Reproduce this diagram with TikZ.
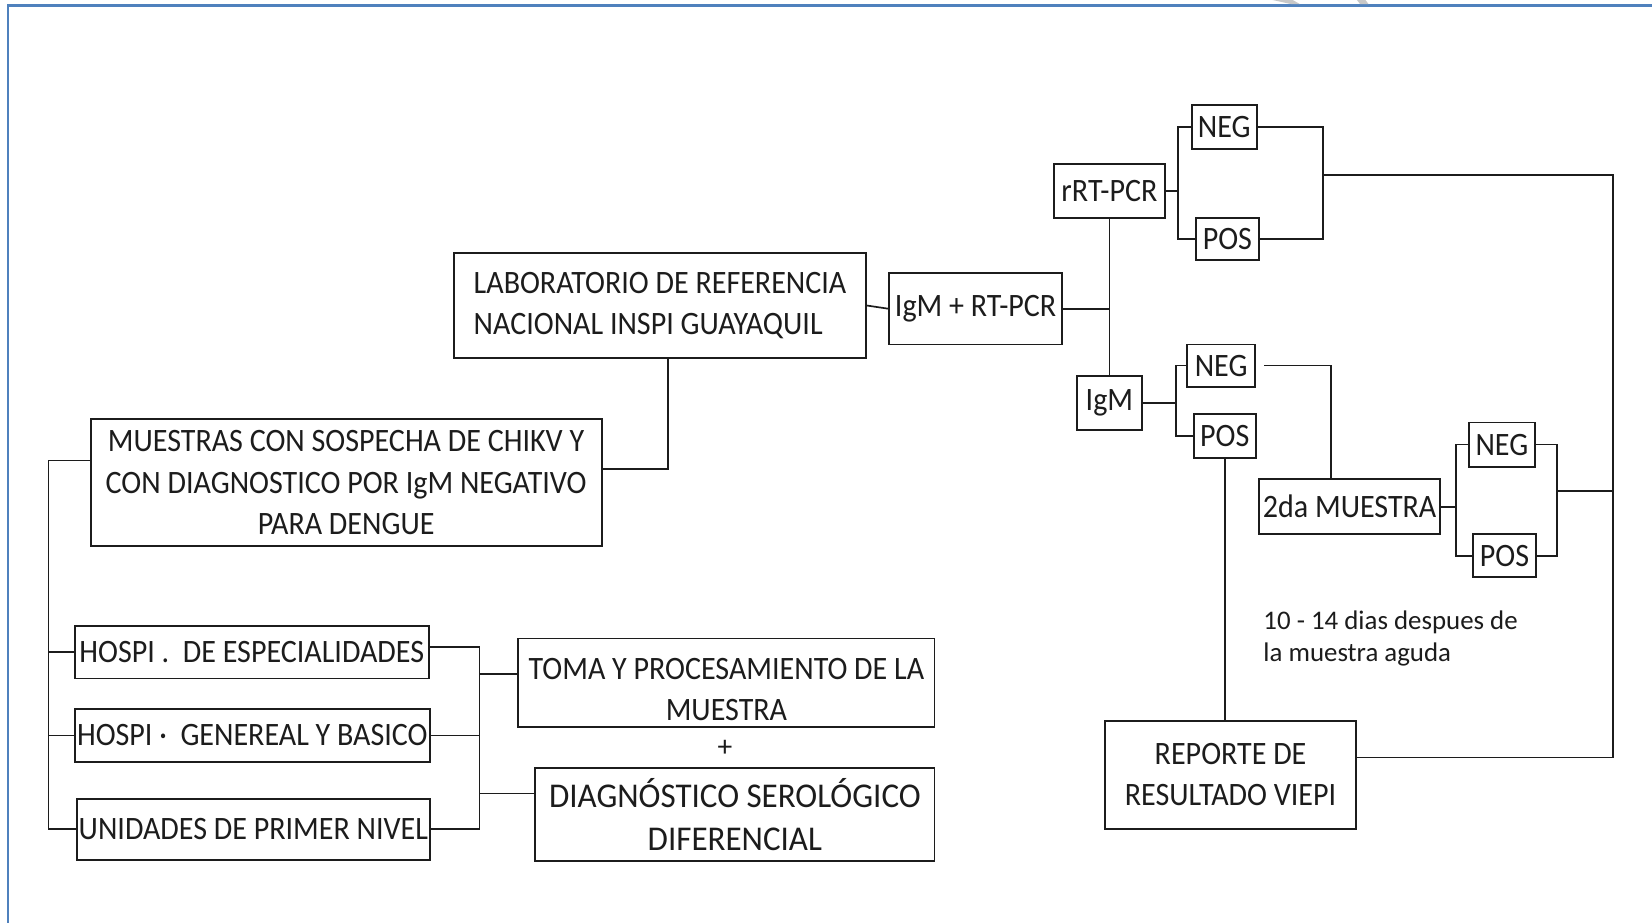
\documentclass[tikz,border=0pt]{standalone}
\usepackage{fontspec}
\setmainfont{Carlito}
\newfontfamily\boxfont[FakeStretch=0.92]{Carlito}
\newfontfamily\widebox[FakeStretch=0.95]{Carlito}
\usetikzlibrary{calc}
\definecolor{frameblue}{RGB}{79,129,189}
\definecolor{ink}{RGB}{28,28,28}
\definecolor{markgray}{RGB}{200,200,200}

\begin{document}
\begin{tikzpicture}[x=1pt,y=-1pt,
  box/.style={draw=ink, line width=1.8pt, rectangle, inner sep=0pt, text=ink,
              font=\boxfont\fontsize{31}{39}\selectfont, align=center},
  wh/.style 2 args={minimum width=#1pt, minimum height=#2pt},
  conn/.style={draw=ink, line width=1.6pt}]

\useasboundingbox (0,0) rectangle (1568,876);
\fill[white] (0,0) rectangle (1568,876);

% page frame
\draw[frameblue, line width=3pt] (7,5.5) -- (1568,5.5);
\draw[frameblue, line width=2.5pt] (7.5,5.5) -- (7.5,876);
\fill[markgray] (1208,0) -- (1227,0) -- (1234,4) -- (1226,4) -- cycle;
\fill[markgray] (1288,0) -- (1296,0) -- (1299,4) -- (1291,4) -- cycle;

% laboratory branch
\node[box, wh={391}{100}, align=left] (lab) at (626.5,290)
  {LABORATORIO DE REFERENCIA\\NACIONAL INSPI GUAYAQUIL};
\node[box, wh={164}{68}] (igmrt) at (926,293) {IgM + RT-PCR};
\node[box, wh={106}{51}] (rrt) at (1053,181.5) {rRT-PCR};
\node[box, wh={62}{41}] (neg1) at (1162,120.5) {NEG};
\node[box, wh={60}{40}] (pos1) at (1165,227) {POS};
\node[box, wh={62}{51}] (igm) at (1053,382.5) {IgM};
\node[box, wh={64}{40}] (neg2) at (1159,347) {NEG};
\node[box, wh={59}{42}] (pos2) at (1162.5,414) {POS};
\node[box, wh={172}{52}] (m2) at (1281,481) {2da MUESTRA};
\node[box, wh={63}{42}] (neg3) at (1425.5,422) {NEG};
\node[box, wh={60}{41}] (pos3) at (1428,527.5) {POS};
\node[box, wh={238}{103}] (rep) at (1168,735.5) {REPORTE DE\\RESULTADO VIEPI};
\node[font=\fontsize{25.5}{30}\selectfont, text=ink, align=left, anchor=west, inner sep=0pt]
  (note) at (1199,606) {10 - 14 dias despues de\\la muestra aguda};

% sample origin branch
\node[box, wh={485}{120}] (mu) at (328.5,458)
  {MUESTRAS CON SOSPECHA DE CHIKV Y\\CON DIAGNOSTICO POR IgM NEGATIVO\\PARA DENGUE};
\node[box, wh={336}{50}] (h1) at (239,619) {HOSPI .\ \ DE ESPECIALIDADES};
\node[box, wh={337}{50}] (h2) at (239.5,698) {HOSPI ·\ \ GENEREAL Y BASICO};
\node[box, wh={335}{58}] (un) at (240.5,787) {UNIDADES DE PRIMER NIVEL};
\node[box, wh={395}{84}] (toma) at (689.5,648)
  {\rule{0pt}{33pt}TOMA Y PROCESAMIENTO DE LA\\MUESTRA};
\node[text=ink, font=\fontsize{28}{30}\selectfont, inner sep=0pt] (plus) at (688,710) {+};
\node[box, wh={379}{88}, font=\widebox\fontsize{33}{41}\selectfont] (diag) at (697.5,773)
  {DIAGNÓSTICO SEROLÓGICO\\DIFERENCIAL};

% bus points
\coordinate (b1) at (1118,181.5);
\coordinate (b2) at (1256,166);
\coordinate (rb) at (1531,166);
\coordinate (b3) at (1116,382.5);
\coordinate (b4) at (1263,347);
\coordinate (b5) at (1382,481);
\coordinate (b6) at (1478,466);
\coordinate (b7) at (634,445);
\coordinate (lb) at (46,437);
\coordinate (hb) at (455,614);

% connectors: laboratory side
\draw[conn] (lab.east) -- (igmrt.west);
\draw[conn] (igmrt.east) -- (igmrt.east -| rrt.south);
\draw[conn] (rrt.south) -- (igm.north);
\draw[conn] (rrt.east) -- (b1);
\draw[conn] (neg1.west) -| (b1) |- (pos1.west);
\draw[conn] (neg1.east) -| (b2) |- (pos1.east);
\draw[conn] (b2) -- (rb) |- ([yshift=16.5pt]rep.east);
\draw[conn] (igm.east) -- (b3);
\draw[conn] (neg2.west) -| (b3) |- (pos2.west);
\draw[conn] ([xshift=8pt]neg2.east) -- (b4) -- (b4 |- m2.north);
\draw[conn] (pos2.south) -- (pos2.south |- rep.north);
\draw[conn] (m2.east) -- (b5);
\draw[conn] (neg3.west) -| (b5) |- (pos3.west);
\draw[conn] (neg3.east) -| (b6) |- (pos3.east);
\draw[conn] (b6) -- (b6 -| rb);

% connectors: sample side
\draw[conn] ([yshift=13pt]mu.east) -- (b7) -- (b7 |- lab.south);
\draw[conn] ([yshift=21pt]mu.west) -- (lb) |- (un.west);
\draw[conn] (h1.west) -- (h1.west -| lb);
\draw[conn] (h2.west) -- (h2.west -| lb);
\draw[conn] ([yshift=5pt]h1.east) -- (hb) |- (un.east);
\draw[conn] (h2.east) -- (h2.east -| hb);
\draw[conn] ([yshift=8pt]toma.west) -- ([yshift=8pt]toma.west -| hb);
\draw[conn] ([yshift=20pt]diag.west) -- ([yshift=20pt]diag.west -| hb);
\end{tikzpicture}
\end{document}
